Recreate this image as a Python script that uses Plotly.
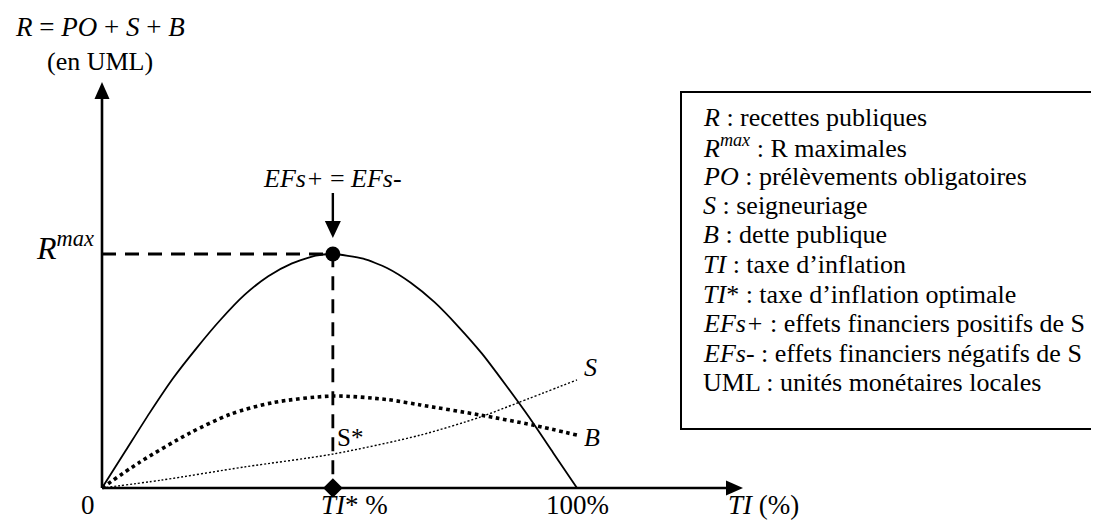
import plotly.graph_objects as go

# ---------------- data ----------------
# x: inflation tax TI in % ; y: revenue in units where R max = 100
ti_r = [0, 5, 10, 15, 20, 25, 30, 35, 40, 45, 48.6, 55, 60, 65, 70, 75, 80, 85, 90, 95, 100]
r_vals = [0, 16, 32, 47, 60, 72, 82.5, 90.5, 96, 99.3, 100, 98, 94, 87.7, 79.4, 69, 57.4, 44, 30, 15, 0]

ti_s = [0, 12.6, 30, 48.6, 67, 79.6, 87.4, 100]
s_vals = [0, 3.4, 9, 14.5, 22.6, 30.3, 36.3, 46.2]

ti_b = [0, 8, 18.5, 27, 36, 48.6, 60, 67, 79.6, 90.7, 100]
b_vals = [0, 11.1, 23.5, 31.5, 36.5, 39.3, 37.8, 35.5, 31.2, 26.9, 22.6]

ti_star = 48.6
r_max = 100
ti_full = 100

legend_lines = [
    "<i>R</i> : recettes publiques",
    "<i>R<sup>max</sup></i> : R maximales",
    "<i>PO</i> : prélèvements obligatoires",
    "<i>S</i> : seigneuriage",
    "<i>B</i> : dette publique",
    "<i>TI</i> : taxe d’inflation",
    "<i>TI</i>* : taxe d’inflation optimale",
    "<i>EFs+</i> : effets financiers positifs de S",
    "<i>EFs-</i> : effets financiers négatifs de S",
    "UML : unités monétaires locales",
]

# ---------------- figure ----------------
OFF = 8                       # default page body margin
W, H = 1099 - OFF, 521 - OFF  # figure size so that it fits the window
FONT = "Liberation Serif, Times New Roman, serif"
# pixel geometry of the data frame (window pixels)
PX0, PY0 = 102.0, 488.0      # origin in window pixels
SX, SY = 4.75, 2.34          # pixels per data unit
xr = [(OFF - PX0) / SX, (OFF + W - PX0) / SX]
yr = [(PY0 - (OFF + H)) / SY, (PY0 - OFF) / SY]


def dx(px):
    return (px - PX0) / SX


def dy(py):
    return (PY0 - py) / SY


def pxp(px):
    return (px - OFF) / W


def pyp(py):
    return 1 - (py - OFF) / H


fig = go.Figure()

# R curve
fig.add_trace(go.Scatter(x=ti_r, y=r_vals, mode="lines",
                         line=dict(color="black", width=1.8, shape="spline", smoothing=0.6),
                         hoverinfo="skip", showlegend=False))
# S curve (thin dotted)
fig.add_trace(go.Scatter(x=ti_s, y=s_vals, mode="lines",
                         line=dict(color="black", width=1.4, dash="2px,2px", shape="spline", smoothing=0.8),
                         hoverinfo="skip", showlegend=False))
# B curve (thick dotted)
fig.add_trace(go.Scatter(x=ti_b, y=b_vals, mode="lines",
                         line=dict(color="black", width=3.6, dash="dot", shape="spline", smoothing=0.8),
                         hoverinfo="skip", showlegend=False))

# dashed guides
fig.add_trace(go.Scatter(x=[0, ti_star, ti_star], y=[r_max, r_max, 0], mode="lines",
                         line=dict(color="black", width=2.8, dash="14px,9px"),
                         hoverinfo="skip", showlegend=False))

# point at the maximum and diamond at TI*
fig.add_trace(go.Scatter(x=[ti_star], y=[r_max], mode="markers",
                         marker=dict(symbol="circle", size=15, color="black"),
                         hoverinfo="skip", showlegend=False))
fig.add_trace(go.Scatter(x=[ti_star], y=[0], mode="markers",
                         marker=dict(symbol="diamond", size=15, color="black"),
                         hoverinfo="skip", showlegend=False))

shapes = []
# axes
x_tip, y_tip = dx(743), dy(82)
shapes.append(dict(type="line", x0=0, y0=0, x1=x_tip - 10 / SX, y1=0,
                   line=dict(color="black", width=2.6)))
shapes.append(dict(type="line", x0=0, y0=0, x1=0, y1=y_tip - 10 / SY,
                   line=dict(color="black", width=2.6)))
shapes.append(dict(type="path", xsizemode="pixel", ysizemode="pixel", xanchor=x_tip, yanchor=0,
                   path="M 0 0 L -17 7.5 L -17 -7.5 Z", fillcolor="black", line=dict(width=0)))
shapes.append(dict(type="path", xsizemode="pixel", ysizemode="pixel", xanchor=0, yanchor=y_tip,
                   path="M 0 0 L -7.5 -17 L 7.5 -17 Z", fillcolor="black", line=dict(width=0)))
# arrow EFs+ = EFs-
a_tip = dy(238)
shapes.append(dict(type="line", x0=ti_star, x1=ti_star, y0=dy(193), y1=a_tip + 10 / SY,
                   line=dict(color="black", width=2.4)))
shapes.append(dict(type="path", xsizemode="pixel", ysizemode="pixel", xanchor=ti_star, yanchor=a_tip,
                   path="M 0 0 L -8 17 L 8 17 Z", fillcolor="black", line=dict(width=0)))
# legend box
shapes.append(dict(type="rect", xref="paper", yref="paper",
                   x0=pxp(681), x1=pxp(1096.5), y0=pyp(429), y1=pyp(92),
                   line=dict(color="black", width=2), fillcolor="rgba(0,0,0,0)"))

ann = []


def txt(x, y, text, size, xanchor="center", yanchor="middle", xref="x", yref="y"):
    ann.append(dict(x=x, y=y, xref=xref, yref=yref, text=text, showarrow=False,
                    xanchor=xanchor, yanchor=yanchor,
                    font=dict(family=FONT, size=size, color="black")))


txt(dx(100), dy(27), "<i>R</i> = <i>PO</i> + <i>S</i> + <i>B</i>", 27)
txt(dx(100), dy(61), "(en UML)", 26)
txt(dx(96), dy(246), "<i>R<sup>max</sup></i>", 32, xanchor="right")
txt(ti_star, dy(178), "<i>EFs+</i> = <i>EFs-</i>", 26)
txt(dx(335), dy(437), "S*", 25, xanchor="left")
txt(dx(582), dy(367), "<i>S</i>", 26, xanchor="left")
txt(dx(582), dy(437), "<i>B</i>", 26, xanchor="left")
txt(dx(88), dy(505), "0", 27)
txt(dx(319), dy(505), "<i>TI</i>* %", 27, xanchor="left")
txt(ti_full, dy(505), "100%", 27)
txt(dx(726), dy(505), "<i>TI</i> (%)", 27, xanchor="left")

for i, line in enumerate(legend_lines):
    py = 117 + 29.5 * i
    txt(pxp(701), pyp(py), line, 26, xanchor="left", xref="paper", yref="paper")

fig.update_layout(
    width=W, height=H,
    margin=dict(l=0, r=0, t=0, b=0),
    paper_bgcolor="white", plot_bgcolor="white",
    xaxis=dict(range=xr, visible=False, fixedrange=True),
    yaxis=dict(range=yr, visible=False, fixedrange=True),
    shapes=shapes, annotations=ann, showlegend=False,
)

fig.write_html("out.html")
